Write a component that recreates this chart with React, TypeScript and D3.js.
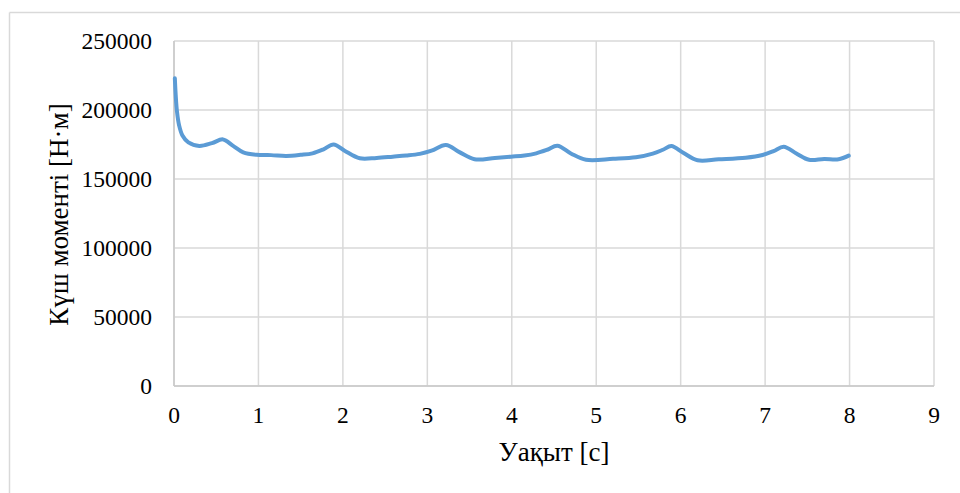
import React from "react";
import * as d3 from "d3";

const times = [0.01, 0.02, 0.035, 0.06, 0.1, 0.17, 0.3, 0.45, 0.58, 0.7, 0.82, 0.98, 1.15, 1.33, 1.5, 1.64, 1.77, 1.89, 2.02, 2.2, 2.4, 2.59, 2.75, 2.91, 3.05, 3.22, 3.38, 3.56, 3.8, 3.99, 4.15, 4.29, 4.42, 4.54, 4.7, 4.88, 5.2, 5.47, 5.67, 5.79, 5.89, 6.03, 6.2, 6.45, 6.77, 6.97, 7.1, 7.22, 7.37, 7.52, 7.7, 7.87, 7.99];
const torque = [223000, 211000, 199000, 189000, 181500, 176500, 174000, 176000, 178700, 174000, 169300, 167500, 167300, 166700, 167500, 168600, 171500, 175000, 170500, 165000, 165300, 166200, 167000, 168200, 170500, 174600, 169500, 164300, 165300, 166200, 167000, 168600, 171200, 174100, 168500, 163900, 164600, 165700, 168400, 171200, 173900, 169000, 163600, 164300, 165400, 167400, 170200, 173400, 168500, 163900, 164500, 164300, 166900];
const xTicks = [0, 1, 2, 3, 4, 5, 6, 7, 8, 9];
const yTicks = [0, 50000, 100000, 150000, 200000, 250000];
const xTitle = "Уақыт [с]";
const yTitle = "Күш моменті [Н·м]";

const W = 960, H = 493;
const L = 174, R = 934, T = 41, B = 386;

export default function App() {
  const x = d3.scaleLinear().domain([0, 9]).range([L, R]);
  const y = d3.scaleLinear().domain([0, 250000]).range([B, T]);
  const data = times.map((t, i) => [t, torque[i]] as [number, number]);
  const line = d3.line<[number, number]>().x(d => x(d[0])).y(d => y(d[1])).curve(d3.curveCatmullRom.alpha(0.5));
  const font = "'Liberation Serif', 'Times New Roman', serif";
  return (
    <svg width={W} height={H} style={{ position: "absolute", left: 0, top: 0, background: "#fff" }}>
      <line x1={9.5} x2={W} y1={12.5} y2={12.5} stroke="#d9d9d9" strokeWidth={1.5} />
      <line x1={9.5} x2={9.5} y1={12.5} y2={H} stroke="#d9d9d9" strokeWidth={1.5} />
      {xTicks.map(t => (
        <line key={"gx" + t} x1={x(t)} x2={x(t)} y1={T} y2={B} stroke="#d9d9d9" strokeWidth={1.5} />
      ))}
      {yTicks.map(v => (
        <line key={"gy" + v} x1={L} x2={R} y1={y(v)} y2={y(v)} stroke="#d9d9d9" strokeWidth={1.5} />
      ))}
      <line x1={L} x2={R} y1={B} y2={B} stroke="#c8c8c8" strokeWidth={1.5} />
      <line x1={L} x2={L} y1={T} y2={B} stroke="#c8c8c8" strokeWidth={1.5} />
      <path d={line(data) || ""} fill="none" stroke="#5b9bd5" strokeWidth={4} strokeLinecap="round" strokeLinejoin="round" />
      {xTicks.map(t => (
        <text key={"tx" + t} x={x(t)} y={422.5} textAnchor="middle" fontFamily={font} fontSize={23.5} fill="#000">{t}</text>
      ))}
      {yTicks.map(v => (
        <text key={"ty" + v} x={152} y={y(v) + 8} textAnchor="end" fontFamily={font} fontSize={23.5} fill="#000">{v}</text>
      ))}
      <text x={554} y={461} textAnchor="middle" fontFamily={font} fontSize={27} fill="#000">{xTitle}</text>
      <text transform={`translate(68, ${(T + B) / 2 + 1}) rotate(-90)`} textAnchor="middle" fontFamily={font} fontSize={27} fill="#000">{yTitle}</text>
    </svg>
  );
}
